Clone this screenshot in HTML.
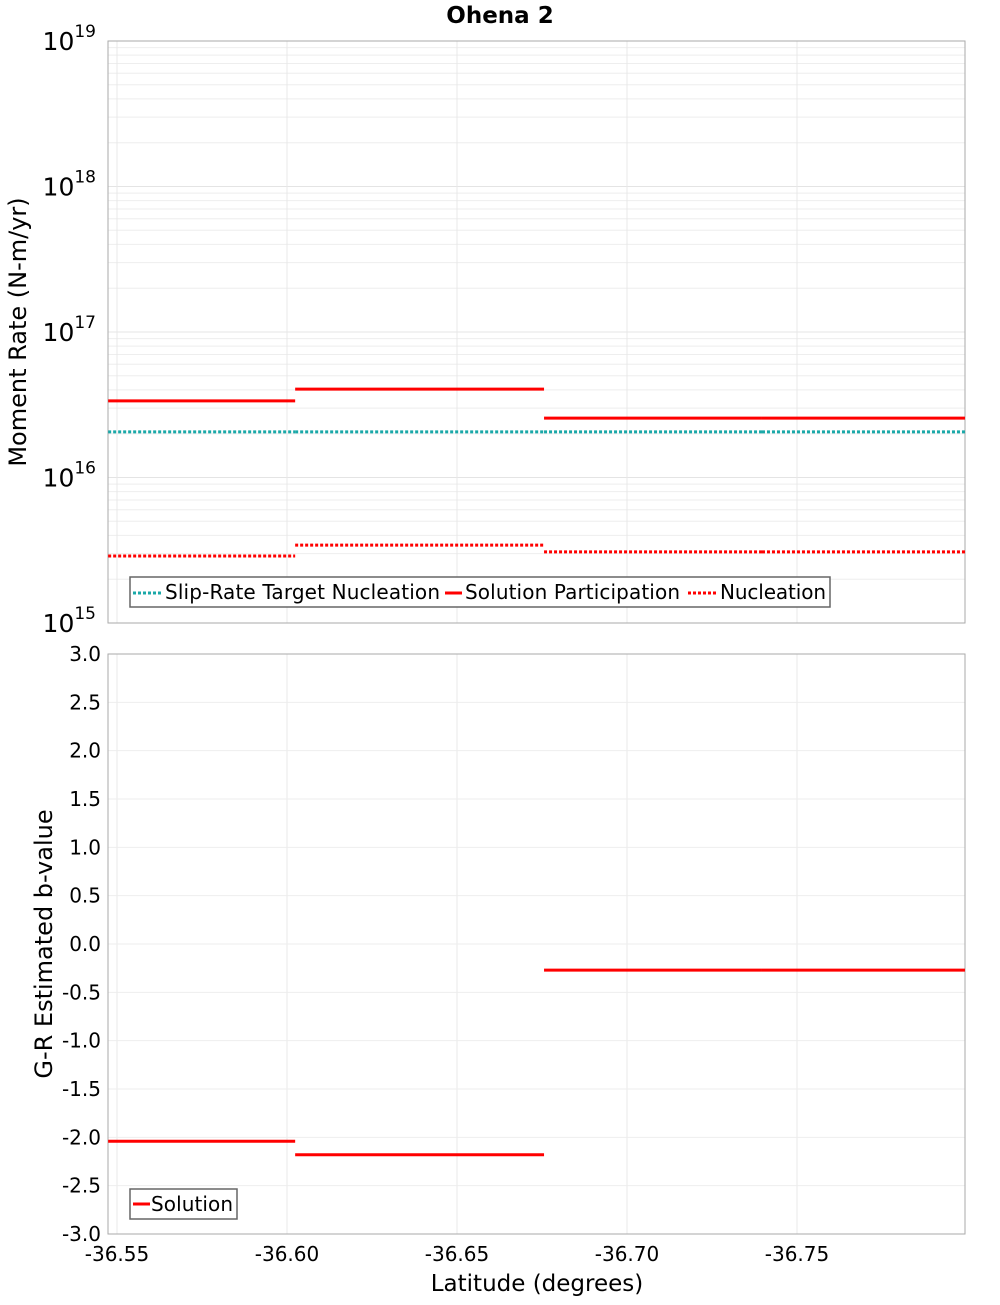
<!DOCTYPE html>
<html><head><meta charset="utf-8"><style>
body{margin:0;background:#fff}
svg text{font-family:"DejaVu Sans","Liberation Sans",sans-serif;fill:#000}
</style></head><body>
<svg id="c" width="1000" height="1300" xmlns="http://www.w3.org/2000/svg"></svg>
<script>
const segStart=[-36.5474,-36.6024,-36.6756,-36.7397];
const segEnd=[-36.6024,-36.6756,-36.7397,-36.7994];
const participation=[3.36e16,4.05e16,2.56e16,2.56e16];
const target=[2.06e16,2.06e16,2.06e16,2.06e16];
const nucleation=[2.89e15,3.43e15,3.08e15,3.08e15];
const bValues=[-2.04,-2.18,-0.27,-0.27];
const xTicks=[-36.55,-36.60,-36.65,-36.70,-36.75];
const xTickLabels=["-36.55","-36.60","-36.65","-36.70","-36.75"];
const logTicks=[15,16,17,18,19];
const bTicks=[3,2.5,2,1.5,1,0.5,0,-0.5,-1,-1.5,-2,-2.5,-3];

const svg=document.getElementById('c');
const NS='http://www.w3.org/2000/svg';
function mk(tag,at,name,txt){const e=document.createElementNS(NS,tag);for(const k in at)e.setAttribute(k,at[k]);


if(txt!==undefined)e.textContent=txt;svg.appendChild(e);return e;}
const L=108,R=965,T1=41,B1=623,T2=654,B2=1234;
const xs=v=>117+(-36.55-v)/0.05*170;
const y1=v=>B1-(Math.log10(v)-15)*(B1-T1)/4;
const y2=v=>T2+(3-v)*(B2-T2)/6;

mk('text',{x:500,y:23,'text-anchor':'middle','font-size':23,'font-weight':'bold'},'chart-title','Ohena 2');
for(let d=15;d<19;d++)for(let m=2;m<10;m++){const y=y1(m*Math.pow(10,d));mk('line',{x1:L,x2:R,y1:y,y2:y,stroke:'#eee'},'minor-gridline');}
for(const d of logTicks){const y=y1(Math.pow(10,d));mk('line',{x1:L,x2:R,y1:y,y2:y,stroke:'#e4e4e4'},'major-gridline');
const t=mk('text',{x:96,y:y+9,'text-anchor':'end','font-size':25},'y-tick-label','10');
const s=document.createElementNS(NS,'tspan');s.setAttribute('dy','-13');s.setAttribute('font-size','17');s.textContent=String(d);t.appendChild(s);}
for(const v of xTicks){mk('line',{x1:xs(v),x2:xs(v),y1:T1,y2:B1,stroke:'#e8e8e8'},'x-gridline');
mk('line',{x1:xs(v),x2:xs(v),y1:T2,y2:B2,stroke:'#e8e8e8'},'x-gridline');}
for(const v of bTicks){const y=y2(v);mk('line',{x1:L,x2:R,y1:y,y2:y,stroke:'#eee'},'y-gridline');
mk('text',{x:101,y:y+7,'text-anchor':'end','font-size':20},'y-tick-label',v.toFixed(1));}
mk('rect',{x:L,y:T1,width:R-L,height:B1-T1,fill:'none',stroke:'#aaa'},'top-plot-area');
mk('rect',{x:L,y:T2,width:R-L,height:B2-T2,fill:'none',stroke:'#aaa'},'bottom-plot-area');
xTicks.forEach((v,i)=>mk('text',{x:xs(v),y:1261,'text-anchor':'middle','font-size':20},'x-tick-label',xTickLabels[i]));
mk('text',{x:537,y:1291,'text-anchor':'middle','font-size':23},'x-axis-title','Latitude (degrees)');
mk('text',{transform:'translate(26,332) rotate(-90)','text-anchor':'middle','font-size':24},'y-axis-title-top','Moment Rate (N-m/yr)');
mk('text',{transform:'translate(52,944) rotate(-90)','text-anchor':'middle','font-size':24},'y-axis-title-bottom','G-R Estimated b-value');
for(let i=0;i<segStart.length;i++){
const a=xs(segStart[i]),b=xs(segEnd[i]);
mk('line',{x1:a,x2:b,y1:y1(target[i]),y2:y1(target[i]),stroke:'#1aa8a8','stroke-width':3,'stroke-dasharray':'3,2'},'target-line');
mk('line',{x1:a,x2:b,y1:y1(participation[i]),y2:y1(participation[i]),stroke:'#f00','stroke-width':3},'participation-line');
mk('line',{x1:a,x2:b,y1:y1(nucleation[i]),y2:y1(nucleation[i]),stroke:'#f00','stroke-width':3,'stroke-dasharray':'3,2'},'nucleation-line');
mk('line',{x1:a,x2:b,y1:y2(bValues[i]),y2:y2(bValues[i]),stroke:'#f00','stroke-width':3},'b-value-line');}
mk('rect',{x:130,y:577,width:700,height:30,fill:'#fff',stroke:'#666','stroke-width':1.5},'legend-top');
mk('line',{x1:133,x2:161,y1:593,y2:593,stroke:'#1aa8a8','stroke-width':3,'stroke-dasharray':'3,2'},'legend-swatch-target');
mk('text',{x:165,y:599,'font-size':20,textLength:275},'legend-entry-target','Slip-Rate Target Nucleation');
mk('line',{x1:445,x2:462,y1:593,y2:593,stroke:'#f00','stroke-width':3},'legend-swatch-participation');
mk('text',{x:465,y:599,'font-size':20,textLength:215},'legend-entry-participation','Solution Participation');
mk('line',{x1:688,x2:716,y1:593,y2:593,stroke:'#f00','stroke-width':3,'stroke-dasharray':'3,2'},'legend-swatch-nucleation');
mk('text',{x:720,y:599,'font-size':20,textLength:106},'legend-entry-nucleation','Nucleation');
mk('rect',{x:130,y:1189,width:107,height:30,fill:'#fff',stroke:'#666','stroke-width':1.5},'legend-bottom');
mk('line',{x1:133,x2:150,y1:1204,y2:1204,stroke:'#f00','stroke-width':3},'legend-swatch-solution');
mk('text',{x:151,y:1211,'font-size':20,textLength:82},'legend-entry-solution','Solution');
</script>
</body></html>
